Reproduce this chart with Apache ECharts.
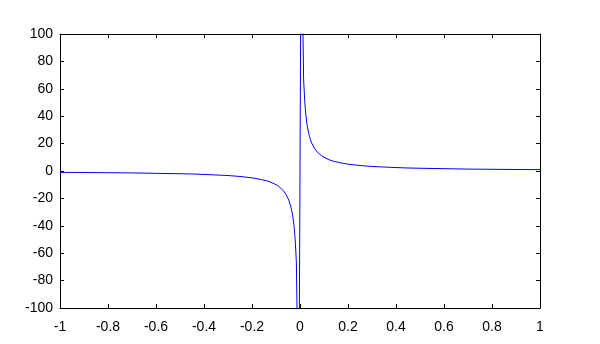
<!DOCTYPE html>
<html>
<head>
<meta charset="utf-8">
<script src="https://cdn.jsdelivr.net/npm/echarts@6/dist/echarts.min.js"></script>
<style>html,body{margin:0;padding:0;background:#fff}#c{width:600px;height:344px}</style>
</head>
<body>
<div id="c"></div>
<script>
// Values (curve points, x and y)
var xs = [-1, -0.9, -0.8, -0.7, -0.6, -0.5, -0.45, -0.4, -0.35, -0.3, -0.25, -0.2, -0.18, -0.16, -0.14, -0.12, -0.1, -0.09, -0.08, -0.07, -0.06, -0.05, -0.045, -0.04, -0.035, -0.03, -0.025, -0.02, -0.015, -0.005,
          0.005, 0.015, 0.02, 0.025, 0.03, 0.035, 0.04, 0.045, 0.05, 0.06, 0.07, 0.08, 0.09, 0.1, 0.12, 0.14, 0.16, 0.18, 0.2, 0.25, 0.3, 0.35, 0.4, 0.45, 0.5, 0.6, 0.7, 0.8, 0.9, 1];
var ys = [-1, -1.1, -1.25, -1.4, -1.7, -2, -2.2, -2.5, -2.9, -3.3, -4, -5, -5.6, -6.3, -7.1, -8.3, -10, -11.1, -12.5, -14.3, -16.7, -20, -22, -25, -28.6, -33, -40, -50, -67, -199,
          199, 67, 50, 40, 33, 28.6, 25, 22, 20, 16.7, 14.3, 12.5, 11.1, 10, 8.3, 7.1, 6.3, 5.6, 5, 4, 3.3, 2.9, 2.5, 2.2, 2, 1.7, 1.4, 1.25, 1.1, 1];
var xTicks = {min: -1, max: 1, step: 0.2};
var yTicks = {min: -100, max: 100, step: 20};

var pts = xs.map(function (x, i) { return [x, ys[i]]; });
var fmt = function (v) { return String(+(+v).toFixed(1)); };
var font = {fontFamily: 'Liberation Sans, Arial, sans-serif', fontSize: 14, color: '#000'};

var chart = echarts.init(document.getElementById('c'), null, {renderer: 'canvas'});
chart.setOption({
  animation: false,
  backgroundColor: '#fff',
  grid: {left: 60, right: 60, top: 34, bottom: 36, containLabel: false},
  xAxis: [
    {type: 'value', min: xTicks.min, max: xTicks.max, interval: xTicks.step, position: 'bottom',
     axisLine: {show: true, onZero: false, lineStyle: {color: '#000', width: 1}},
     axisTick: {show: true, inside: true, length: 4, lineStyle: {color: '#000'}},
     axisLabel: Object.assign({margin: 12, formatter: fmt}, font),
     splitLine: {show: false}},
    {type: 'value', min: xTicks.min, max: xTicks.max, interval: xTicks.step, position: 'top',
     axisLine: {show: true, onZero: false, lineStyle: {color: '#000', width: 1}},
     axisTick: {show: true, inside: true, length: 4, lineStyle: {color: '#000'}},
     axisLabel: {show: false}, splitLine: {show: false}}
  ],
  yAxis: [
    {type: 'value', min: yTicks.min, max: yTicks.max, interval: yTicks.step, position: 'left',
     axisLine: {show: true, onZero: false, lineStyle: {color: '#000', width: 1}},
     axisTick: {show: true, inside: true, length: 4, lineStyle: {color: '#000'}},
     axisLabel: Object.assign({margin: 7}, font),
     splitLine: {show: false}},
    {type: 'value', min: yTicks.min, max: yTicks.max, interval: yTicks.step, position: 'right',
     axisLine: {show: true, onZero: false, lineStyle: {color: '#000', width: 1}},
     axisTick: {show: true, inside: true, length: 4, lineStyle: {color: '#000'}},
     axisLabel: {show: false}, splitLine: {show: false}}
  ],
  series: [{
    type: 'line', xAxisIndex: 0, yAxisIndex: 0, data: pts,
    showSymbol: false, symbol: 'none', clip: true, smooth: false,
    lineStyle: {color: '#0000ff', width: 1}
  }]
});
</script>
</body>
</html>
